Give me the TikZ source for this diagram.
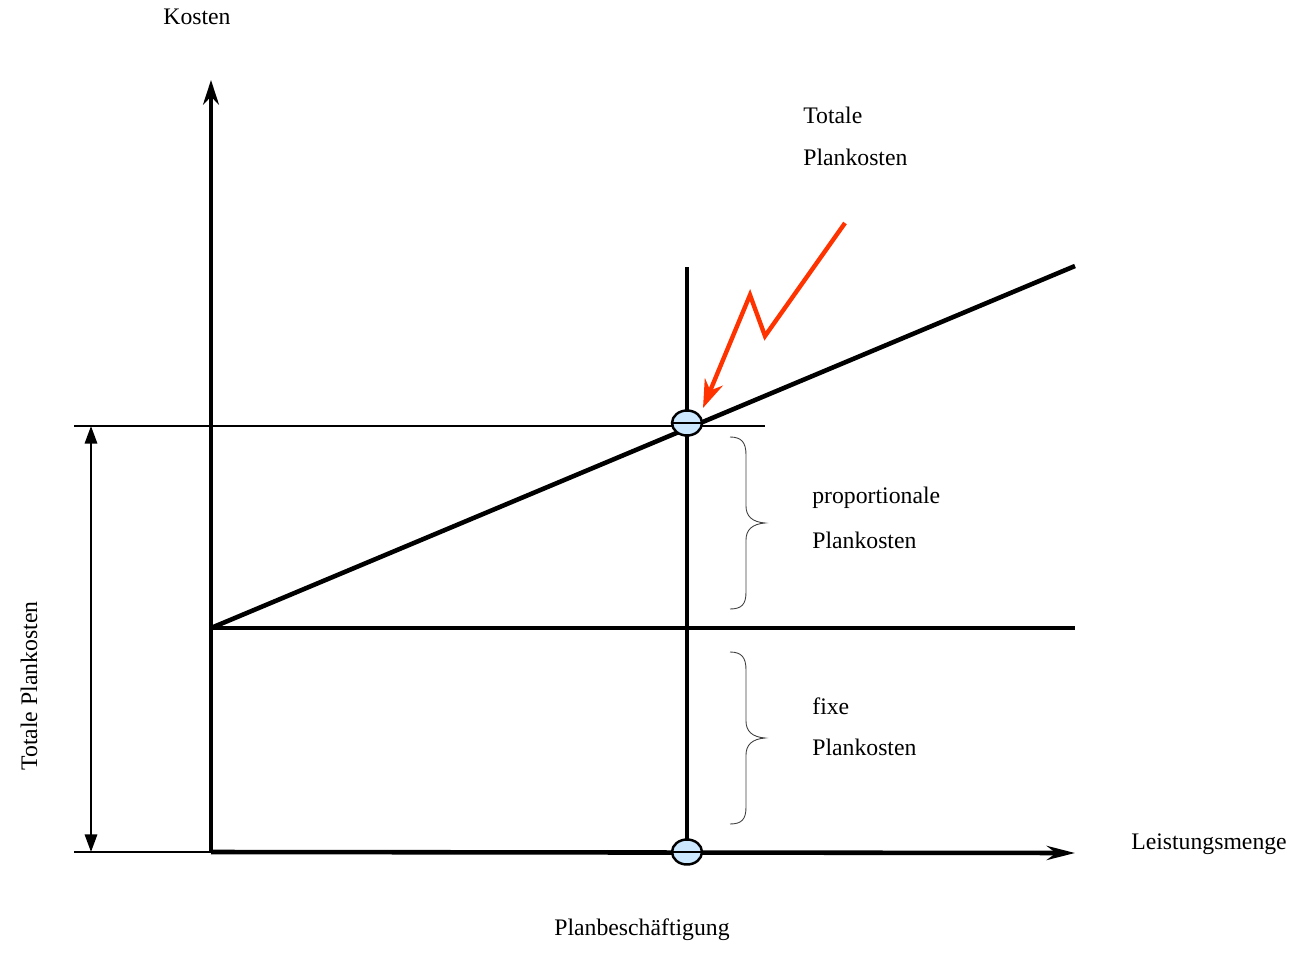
\documentclass[tikz,border=0pt]{standalone}
\usepackage{fontspec}
\setmainfont{Liberation Serif}
\usetikzlibrary{arrows.meta,shapes.geometric}
\begin{document}
\begin{tikzpicture}[x=0.02cm,y=-0.02cm,
  thick line/.style={line width=2.6pt,black},
  thin line/.style={line width=0.7pt,black},
  lbl/.style={font=\fontsize{13.5}{16}\selectfont,inner sep=0pt},
  marker/.style={ellipse,draw=black,line width=1.4pt,fill={rgb,255:red,204;green,232;blue,255},minimum width=0.6cm,minimum height=0.5cm,inner sep=0pt},
  bracepath/.style={line width=0.5pt,black!75}]
\useasboundingbox (0,0) rectangle (1292,953);
% coordinates
\coordinate (O) at (211,852);
\coordinate (Ytop) at (211,80);
\coordinate (Xend) at (1075,853);
\coordinate (F) at (211,628);
\coordinate (Fend) at (1075,628);
\coordinate (Send) at (1075,266);
\coordinate (Vtop) at (687,267);
\coordinate (Vbot) at (687,852);
\coordinate (Hl) at (74,426);
\coordinate (Hr) at (765,426);
\coordinate (Bl) at (74,852);
\coordinate (Dt) at (91,426);
\coordinate (Db) at (91,852);
% thin guide lines
\draw[thin line] (Hl) -- (Hr);
\draw[thin line] (Bl) -- (O);
\draw[line width=1.3pt,{Triangle[length=10pt,width=7pt]}-{Triangle[length=10pt,width=7pt]}] (Dt) -- (Db);
% axes
\draw[thick line,-{Stealth[length=14pt,width=9pt]}] (O) -- (Ytop);
\draw[thick line,-{Stealth[length=16pt,width=8pt]}] (O) -- (Xend);
% curves
\draw[thick line] (F) -- (Fend);
\draw[thick line] (F) -- (Send);
\draw[thick line] (Vtop) -- (Vbot);
% markers
\node[marker] (M1) at (687,423) {};
\draw[thin line] (M1.west) -- (M1.east);
\node[marker] (M2) at (687,852) {};
\draw[line width=1.3pt] (M2.west) -- (M2.east);
% red zigzag arrow
\coordinate (R1) at (845,223);
\coordinate (R2) at (765,336);
\coordinate (R3) at (750,295);
\coordinate (R4) at (703,408);
\draw[line width=2.5pt,color={rgb,255:red,255;green,51;blue,0},line join=miter,-{Stealth[length=16pt,width=11pt]}] (R1) -- (R2) -- (R3) -- (R4);
% braces
\draw[bracepath] (730,437) .. controls (742,437) and (746,443) .. (746,455) -- (746,506) .. controls (746,516) and (752,522) .. (765,523)
  .. controls (752,524) and (746,530) .. (746,540) -- (746,592) .. controls (746,604) and (742,609) .. (730,609);
\draw[bracepath] (730,652) .. controls (742,652) and (746,658) .. (746,670) -- (746,721) .. controls (746,731) and (752,737) .. (765,738)
  .. controls (752,739) and (746,745) .. (746,755) -- (746,807) .. controls (746,819) and (742,824) .. (730,824);
% labels
\node[lbl] (kosten) at (197,17) {Kosten};
\node[lbl,anchor=west] (t1) at (803,115) {Totale};
\node[lbl,anchor=west] (t2) at (803,157) {Plankosten};
\node[lbl,anchor=west] (p1) at (812,498) {proportionale};
\node[lbl,anchor=west] (p2) at (812,540) {Plankosten};
\node[lbl,anchor=west] (f1) at (812,706) {fixe};
\node[lbl,anchor=west] (f2) at (812,747) {Plankosten};
\node[lbl] (lm) at (1209,844) {Leistungsmenge};
\node[lbl] (pb) at (642,930) {Planbeschäftigung};
\node[lbl,rotate=90] (tp) at (29,686) {Totale Plankosten};
\end{tikzpicture}
\end{document}
